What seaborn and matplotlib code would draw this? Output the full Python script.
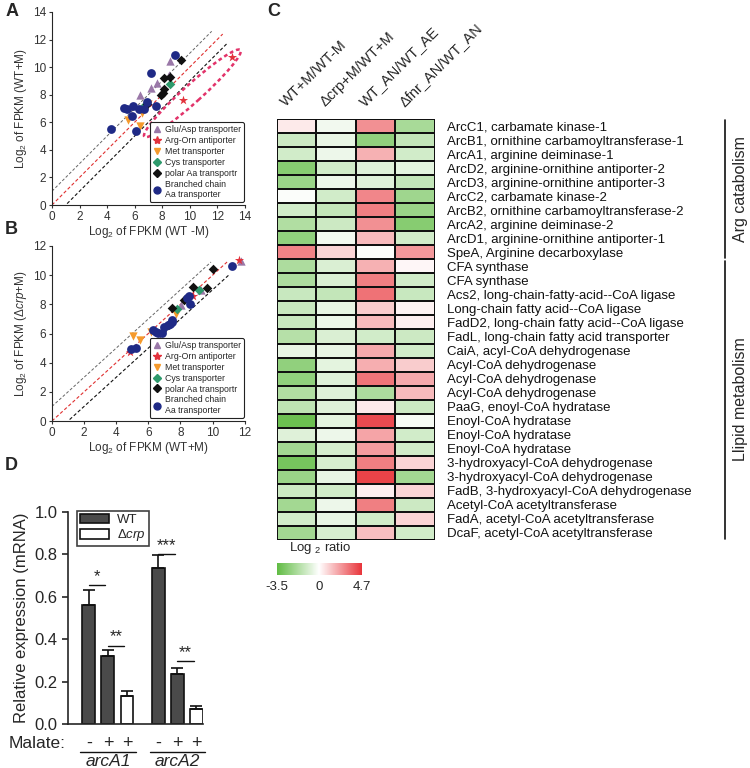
import matplotlib
matplotlib.use("Agg")
import matplotlib.pyplot as plt
import matplotlib.transforms as mtransforms
import numpy as np
import pandas as pd
import seaborn as sns
from matplotlib.colors import LinearSegmentedColormap, TwoSlopeNorm
from matplotlib.lines import Line2D
from matplotlib.patches import Ellipse, Patch

sns.set_theme(style="ticks")
plt.rcParams["font.family"] = ["Liberation Sans", "DejaVu Sans"]
plt.rcParams["mathtext.fontset"] = "custom"
plt.rcParams["mathtext.rm"] = "Liberation Sans"
plt.rcParams["mathtext.it"] = "Liberation Sans:italic"

# ---------------- scatter data (A: WT-M vs WT+M, B: WT+M vs crp+M) ----------------
SERIES = ["Glu/Asp transporter", "Arg-Orn antiporter", "Met transporter",
          "Cys transporter", "polar Aa transportr", "Branched chain\nAa transporter"]

A_GLU = [(6.4, 8.0), (7.2, 8.5), (7.6, 8.85), (8.5, 9.45), (8.6, 10.45)]
A_ARG = [(7.6, 5.35), (9.5, 7.6), (13.1, 10.75)]
A_MET = [(5.5, 6.15), (6.4, 5.7), (6.55, 6.7), (7.0, 7.35)]
A_CYS = [(6.7, 7.15), (8.55, 8.8)]
A_POL = [(6.9, 7.3), (7.95, 8.0), (8.05, 8.15), (8.15, 8.4), (8.15, 9.2),
         (8.55, 9.3), (9.35, 10.55)]
A_BCH = [(4.3, 5.5), (5.25, 7.05), (5.45, 7.0), (5.85, 7.15), (5.8, 6.45),
         (6.1, 5.35), (6.35, 7.0), (6.7, 6.95), (6.9, 7.5), (7.2, 9.6),
         (7.55, 7.15), (8.95, 10.85)]

B_GLU = [(8.05, 7.95), (9.3, 8.95), (11.75, 10.95)]
B_ARG = [(4.85, 4.75), (8.75, 8.6), (11.65, 11.05)]
B_MET = [(5.05, 5.8), (5.5, 5.55), (6.15, 6.1), (7.75, 7.35)]
B_CYS = [(7.8, 7.65), (9.15, 8.95)]
B_POL = [(7.5, 7.75), (8.2, 8.3), (8.8, 9.2), (9.65, 9.1), (10.05, 10.4)]
B_BCH = [(4.9, 4.95), (5.2, 5.0), (6.3, 6.25), (6.45, 6.1), (6.6, 6.05),
         (6.85, 6.05), (7.0, 6.45), (7.2, 6.55), (7.35, 6.65), (7.45, 6.8),
         (7.5, 6.9), (8.4, 8.45), (8.5, 8.6), (8.6, 8.0), (11.2, 10.65)]

MARKERS = ["^", "*", "v", "D", "D", "o"]
COLORS = ["#9a78a8", "#e2323c", "#f59a2c", "#2e9a6c", "#111111", "#1f2a86"]
SIZES = [36, 48, 36, 24, 24, 40]

# ---------------- heatmap data (log2 ratio) ----------------
GENES = [
    "ArcC1, carbamate kinase-1",
    "ArcB1, ornithine carbamoyltransferase-1",
    "ArcA1, arginine deiminase-1",
    "ArcD2, arginine-ornithine antiporter-2",
    "ArcD3, arginine-ornithine antiporter-3",
    "ArcC2, carbamate kinase-2",
    "ArcB2, ornithine carbamoyltransferase-2",
    "ArcA2, arginine deiminase-2",
    "ArcD1, arginine-ornithine antiporter-1",
    "SpeA, Arginine decarboxylase",
    "CFA synthase",
    "CFA synthase ",
    "Acs2, long-chain-fatty-acid--CoA ligase",
    "Long-chain fatty acid--CoA ligase",
    "FadD2, long-chain fatty acid--CoA ligase",
    "FadL, long-chain fatty acid transporter",
    "CaiA, acyl-CoA dehydrogenase",
    "Acyl-CoA dehydrogenase",
    "Acyl-CoA dehydrogenase ",
    "Acyl-CoA dehydrogenase  ",
    "PaaG, enoyl-CoA hydratase",
    "Enoyl-CoA hydratase",
    "Enoyl-CoA hydratase ",
    "Enoyl-CoA hydratase  ",
    "3-hydroxyacyl-CoA dehydrogenase",
    "3-hydroxyacyl-CoA dehydrogenase ",
    "FadB, 3-hydroxyacyl-CoA dehydrogenase",
    "Acetyl-CoA acetyltransferase",
    "FadA, acetyl-CoA acetyltransferase",
    "DcaF, acetyl-CoA acetyltransferase",
]
CONTRASTS = ["WT+M/WT-M", "\u0394crp+M/WT+M", "WT_AN/WT_AE", "\u0394fnr_AN/WT_AN"]

WT_M = [0.5, -1.1, -1.0, -2.6, -2.2, -0.1, -1.0, -1.7, -2.4, 2.9,
        -1.8, -1.8, -1.2, -1.2, -1.2, -1.6, -0.5, -2.4, -2.4, -1.7,
        -1.4, -3.2, -0.7, -2.0, -3.0, -2.2, -1.1, -2.0, -1.0, -2.0]
CRP_M = [-0.3, -0.5, -0.4, -1.0, -0.4, -1.0, -1.3, -1.1, -0.3, 1.0,
         -0.8, -0.8, -1.3, -0.5, -0.4, -0.8, -0.5, -0.6, -0.7, -0.7,
         -0.7, -0.6, -0.4, -0.9, -0.9, -0.5, -1.0, -0.4, -0.5, -0.9]
AN_AE = [2.6, -2.4, 1.8, -0.7, -0.7, 2.8, 3.0, 2.6, 1.6, -0.1,
         1.8, 3.0, 3.3, 1.2, 1.6, -1.0, 2.0, 1.9, 3.2, -1.8,
         0.5, 4.2, 2.1, 2.3, 3.0, 4.4, 0.4, 3.0, -1.0, 1.5]
FNR_AN = [-1.9, -1.3, -1.0, -0.6, -1.3, -2.1, -2.2, -2.6, -1.0, 2.4,
          0.2, -1.0, -1.2, 0.3, 0.4, -1.1, -1.0, 1.2, 2.0, 1.6,
          -1.1, -0.2, -1.0, -1.0, 1.0, -2.0, 1.0, -1.1, 1.0, -1.0]
GROUP_SPANS = [("Arg catabolism", 0, 10), ("Llipid metabolism", 10, 30)]

# ---------------- qPCR data (panel D) ----------------
BAR_POS = [0, 1, 2, 3.65, 4.65, 5.65]
BAR_STRAIN = ["WT", "WT", "\u0394crp", "WT", "WT", "\u0394crp"]
BAR_MALATE = ["-", "+", "+", "-", "+", "+"]
BAR_MEAN = [0.56, 0.32, 0.132, 0.735, 0.236, 0.072]
BAR_ERR = [0.07, 0.03, 0.022, 0.06, 0.03, 0.012]
GENE_GROUPS = [("arcA1", 0, 2), ("arcA2", 3, 5)]
SIG_MARKS = [(0, 0.655, "*"), (1, 0.37, "**"), (3, 0.80, "***"), (4, 0.295, "**")]


def scatter_panel(ax, series_pts, lim, ticks, line_ends):
    lo_x0, red_x1, up_x1, lo_x1 = line_ends
    xs = np.array([0, up_x1])
    ax.plot(xs, xs + 1, ls=(0, (3, 2)), color="#666666", lw=0.7, zorder=1)
    xs = np.array([0, red_x1])
    ax.plot(xs, xs, ls=(0, (3, 2)), color="#e03030", lw=0.8, zorder=1)
    xs = np.array([lo_x0, lo_x1])
    ax.plot(xs, xs - 1, ls=(0, (3, 2)), color="#111111", lw=0.8, zorder=1)

    rows = []
    for name, pts in zip(SERIES, series_pts):
        for x, y in pts:
            rows.append({"series": name, "x": x, "y": y})
    df = pd.DataFrame(rows)
    for name, mk, col, s in zip(SERIES, MARKERS, COLORS, SIZES):
        sns.scatterplot(data=df[df["series"] == name], x="x", y="y", marker=mk,
                        color=col, s=s, linewidth=0, ax=ax, zorder=3)

    ax.set_xlim(0, lim)
    ax.set_ylim(0, lim)
    ax.set_xticks(ticks)
    ax.set_yticks(ticks)
    sns.despine(ax=ax)
    ax.tick_params(labelsize=8.5, length=2.5, width=0.8, pad=1.5, colors="#333333")
    for sp in ax.spines.values():
        sp.set_linewidth(0.8)

    handles = [Line2D([], [], marker=mk, color=col, ls="", markersize=ms)
               for mk, col, ms in zip(MARKERS, COLORS, [5, 6, 5, 4, 4, 5])]
    leg = ax.legend(handles, SERIES, loc="lower right", bbox_to_anchor=(1.02, -0.005),
                    fontsize=6.3, frameon=True, fancybox=True, framealpha=1,
                    edgecolor="#222222", handlelength=1.0, handletextpad=0.5,
                    labelspacing=0.22, borderpad=0.3)
    leg.get_frame().set_linewidth(0.8)


fig = plt.figure(figsize=(7.5, 7.68), dpi=100)

# ---------------- A ----------------
axA = fig.add_axes([0.0693, 1 - 205 / 768, 0.257, 193 / 768])
scatter_panel(axA, [A_GLU, A_ARG, A_MET, A_CYS, A_POL, A_BCH], 14, range(0, 15, 2),
              (1.1, 12.4, 11.6, 12.7))
axA.add_patch(Ellipse((10.2, 8.1), width=9.4, height=1.3, angle=42, fill=False,
                      ls=(0, (1.5, 1.2)), lw=1.8, edgecolor="#e2336a", zorder=2))
axA.set_xlabel("Log$_2$ of FPKM (WT -M)", fontsize=8.5, color="#333333", labelpad=1)
axA.set_ylabel("Log$_2$ of FPKM (WT+M)", fontsize=8.5, color="#333333", labelpad=3)

# ---------------- B ----------------
axB = fig.add_axes([0.0693, 1 - 421 / 768, 0.257, 175 / 768])
scatter_panel(axB, [B_GLU, B_ARG, B_MET, B_CYS, B_POL, B_BCH], 12, range(0, 13, 2),
              (1.1, 10.9, 9.9, 11.0))
axB.set_xlabel("Log$_2$ of FPKM (WT+M)", fontsize=8.5, color="#333333", labelpad=1)
axB.set_ylabel("Log$_2$ of FPKM ($\\Delta\\mathit{crp}$+M)", fontsize=8.5,
               color="#333333", labelpad=3)

# ---------------- C (heatmap) ----------------
heat = pd.DataFrame({CONTRASTS[0]: WT_M, CONTRASTS[1]: CRP_M,
                     CONTRASTS[2]: AN_AE, CONTRASTS[3]: FNR_AN}, index=GENES)
cmap = LinearSegmentedColormap.from_list("gwr", ["#5fbb42", "#ffffff", "#e8363c"])
norm = TwoSlopeNorm(vmin=-3.5, vcenter=0, vmax=4.7)
axH = fig.add_axes([0.369, 0.297, 0.211, 0.548])
cax = fig.add_axes([0.369, 0.251, 0.113, 0.0156])
sns.heatmap(heat, ax=axH, cmap=cmap, norm=norm, linewidths=1.2, linecolor="#111111",
            cbar_ax=cax, cbar_kws={"orientation": "horizontal", "ticks": [-3.5, 0, 4.7]},
            xticklabels=True, yticklabels=True)
axH.tick_params(axis="y", left=False, labelleft=False, right=False, labelright=True,
                labelsize=9.5, pad=3, labelrotation=0)
axH.tick_params(axis="x", bottom=False, labelbottom=False, top=False, labeltop=True,
                labelsize=10.5, pad=1)
shift = mtransforms.ScaledTranslation(-6 / 72, 0, fig.dpi_scale_trans)
for lab in axH.get_xticklabels():
    lab.set_rotation(45)
    lab.set_ha("left")
    lab.set_va("bottom")
    lab.set_rotation_mode("anchor")
    lab.set_transform(lab.get_transform() + shift)
for lab in axH.get_yticklabels():
    lab.set_color("#111111")

cbar = axH.collections[0].colorbar
cbar.outline.set_visible(False)
cbar.set_ticklabels(["-3.5", "0", "4.7"])
cax.tick_params(length=0, labelsize=9.5, pad=4)
fig.text(0.427, 1 - 548 / 768, "Log $_2$ ratio", ha="center", va="center", fontsize=9.5)

# brackets on the right
tr = mtransforms.blended_transform_factory(fig.transFigure, axH.transData)
for name, r0, r1 in GROUP_SPANS:
    axH.add_line(Line2D([0.967, 0.967], [r0 + 0.1, r1 - 0.1], transform=tr,
                        color="#111111", lw=1.2, clip_on=False))
    fig.text(0.988, (r0 + r1) / 2, name, transform=tr, rotation=90, ha="center",
             va="center", fontsize=11.5)

# ---------------- D (qPCR bars) ----------------
axD = fig.add_axes([0.0907, 0.0573, 0.18, 0.276])
bars = pd.DataFrame({"pos": BAR_POS, "mean": BAR_MEAN, "strain": BAR_STRAIN})
sns.barplot(data=bars, x="pos", y="mean", hue="strain", native_scale=True, dodge=False,
            palette={"WT": "#4a4a4a", "\u0394crp": "#ffffff"}, width=0.68,
            edgecolor="#111111", linewidth=1.2, legend=False, ax=axD)
axD.errorbar(BAR_POS, BAR_MEAN, yerr=[np.zeros(len(BAR_ERR)), BAR_ERR], fmt="none",
             ecolor="#111111", elinewidth=1.2, capsize=4, capthick=1.2, zorder=1)
axD.set_xlim(-1.1, 6.0)
axD.set_ylim(0, 1.0)
axD.set_yticks(np.arange(0, 1.01, 0.2))
axD.set_yticklabels([f"{v:.1f}" for v in np.arange(0, 1.01, 0.2)])
axD.set_xticks([])
axD.set_xlabel("")
axD.set_ylabel("Relative expression (mRNA)", fontsize=12, labelpad=4)
axD.tick_params(axis="y", labelsize=12, length=4, width=1.2)
sns.despine(ax=axD)
for sp in ["left", "bottom"]:
    axD.spines[sp].set_linewidth(1.2)

for i, y, mark in SIG_MARKS:
    x0 = BAR_POS[i]
    axD.plot([x0, x0 + 0.85], [y, y], color="#111111", lw=1.0)
    axD.text(x0 + 0.42, y + 0.005, mark, ha="center", va="bottom", fontsize=12)

handles = [Patch(facecolor="#4a4a4a", edgecolor="#111111", lw=1.2),
           Patch(facecolor="#ffffff", edgecolor="#111111", lw=1.2)]
legD = axD.legend(handles, ["WT", "$\\Delta\\mathit{crp}$"], loc="upper left",
                  bbox_to_anchor=(0.07, 1.005), fontsize=9.5, frameon=True,
                  fancybox=False, edgecolor="#111111", handlelength=2.2,
                  handleheight=0.75, handletextpad=0.6, labelspacing=0.1,
                  borderpad=0.2, borderaxespad=0.0)
legD.get_frame().set_linewidth(1.2)

trD = mtransforms.blended_transform_factory(axD.transData, axD.transAxes)
axD.text(-1.25, -0.09, "Malate:", transform=trD, ha="right", va="center", fontsize=12.5)
for x, m in zip(BAR_POS, BAR_MALATE):
    axD.text(x, -0.09, m, transform=trD, ha="center", va="center", fontsize=13)
for name, i0, i1 in GENE_GROUPS:
    axD.add_line(Line2D([BAR_POS[i0] - 0.45, BAR_POS[i1] + 0.45], [-0.13, -0.13],
                        transform=trD, color="#111111", lw=1.0, clip_on=False))
    axD.text((BAR_POS[i0] + BAR_POS[i1]) / 2, -0.175, name, transform=trD,
             ha="center", va="center", fontsize=12.5, style="italic")

# panel letters
for letter, x, y in [("A", 0.007, 0.985), ("B", 0.007, 1 - 230 / 768),
                     ("C", 0.357, 0.985), ("D", 0.007, 1 - 465 / 768)]:
    fig.text(x, y, letter, fontsize=13, fontweight="bold", va="center")

fig.savefig("out.png", dpi=100)
